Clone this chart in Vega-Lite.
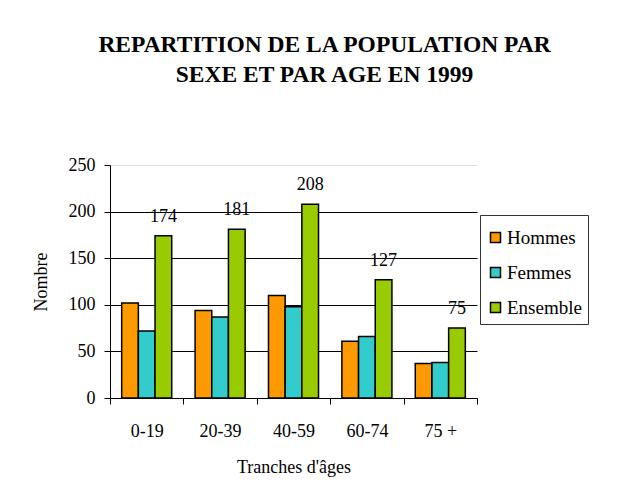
{
  "$schema": "https://vega.github.io/schema/vega-lite/v6.json",
  "width": 367,
  "height": 233,
  "autosize": {"type": "none"},
  "padding": {"left": 110, "top": 165, "right": 148, "bottom": 97},
  "background": "white",
  "title": {
    "text": ["REPARTITION DE LA POPULATION PAR", "SEXE ET PAR AGE EN 1999"],
    "font": "Liberation Serif",
    "fontSize": 23.5,
    "fontWeight": "bold",
    "color": "black",
    "lineHeight": 30,
    "frame": "group",
    "anchor": "middle",
    "dx": 31,
    "offset": 70
  },
  "data": {
    "values": [
      {"age": "0-19", "sexe": "Hommes", "nombre": 102},
      {"age": "0-19", "sexe": "Femmes", "nombre": 72},
      {"age": "0-19", "sexe": "Ensemble", "nombre": 174},
      {"age": "20-39", "sexe": "Hommes", "nombre": 94},
      {"age": "20-39", "sexe": "Femmes", "nombre": 87},
      {"age": "20-39", "sexe": "Ensemble", "nombre": 181},
      {"age": "40-59", "sexe": "Hommes", "nombre": 110},
      {"age": "40-59", "sexe": "Femmes", "nombre": 98},
      {"age": "40-59", "sexe": "Ensemble", "nombre": 208},
      {"age": "60-74", "sexe": "Hommes", "nombre": 61},
      {"age": "60-74", "sexe": "Femmes", "nombre": 66},
      {"age": "60-74", "sexe": "Ensemble", "nombre": 127},
      {"age": "75 +", "sexe": "Hommes", "nombre": 37},
      {"age": "75 +", "sexe": "Femmes", "nombre": 38},
      {"age": "75 +", "sexe": "Ensemble", "nombre": 75}
    ]
  },
  "encoding": {
    "x": {
      "field": "age",
      "type": "nominal",
      "sort": null,
      "scale": {"paddingInner": 0, "paddingOuter": 0},
      "axis": {
        "title": "Tranches d'âges",
        "labelAngle": 0,
        "tickBand": "extent",
        "domainColor": "black",
        "tickColor": "black",
        "tickSize": 6,
        "labelPadding": 18,
        "titlePadding": 18,
        "labelFont": "Liberation Serif",
        "labelFontSize": 18,
        "labelColor": "black",
        "titleFont": "Liberation Serif",
        "titleFontSize": 18,
        "titleFontWeight": "normal",
        "titleColor": "black"
      }
    },
    "xOffset": {
      "field": "sexe",
      "type": "nominal",
      "sort": ["Hommes", "Femmes", "Ensemble"],
      "scale": {"paddingInner": 0, "paddingOuter": 0.7}
    },
    "y": {
      "field": "nombre",
      "type": "quantitative",
      "scale": {"domain": [0, 250]},
      "axis": {
        "title": "Nombre",
        "values": [0, 50, 100, 150, 200, 250],
        "grid": true,
        "gridColor": {"condition": {"test": "datum.value == 250", "value": "#dddddd"}, "value": "black"},
        "gridOpacity": 1,
        "domainColor": "black",
        "tickColor": "black",
        "tickSize": 6,
        "labelPadding": 9,
        "titlePadding": 18,
        "labelFont": "Liberation Serif",
        "labelFontSize": 18,
        "labelColor": "black",
        "titleFont": "Liberation Serif",
        "titleFontSize": 18,
        "titleFontWeight": "normal",
        "titleColor": "black"
      }
    }
  },
  "layer": [
    {
      "mark": {"type": "bar", "stroke": "black", "strokeWidth": 1.5},
      "encoding": {
        "color": {
          "field": "sexe",
          "type": "nominal",
          "scale": {"domain": ["Hommes", "Femmes", "Ensemble"], "range": ["#FF9900", "#33CCCC", "#99CC00"]},
          "legend": {
            "title": " ",
            "titleFontSize": 5,
            "titlePadding": 2,
            "orient": "none",
            "legendX": 370,
            "legendY": 50,
            "symbolType": "square",
            "symbolSize": 100,
            "symbolStrokeColor": "black",
            "symbolStrokeWidth": 1.5,
            "symbolOpacity": 1,
            "labelFont": "Liberation Serif",
            "labelFontSize": 19,
            "labelColor": "black",
            "labelOffset": 2,
            "rowPadding": 15,
            "padding": 6,
            "strokeColor": "#333333",
            "fillColor": "white"
          }
        }
      }
    },
    {
      "transform": [{"filter": "datum.sexe == 'Ensemble'"}],
      "mark": {"type": "text", "baseline": "bottom", "dy": -10, "font": "Liberation Serif", "fontSize": 18, "color": "black"},
      "encoding": {
        "text": {"field": "nombre", "type": "quantitative"}
      }
    }
  ],
  "config": {
    "view": {"stroke": null}
  }
}
